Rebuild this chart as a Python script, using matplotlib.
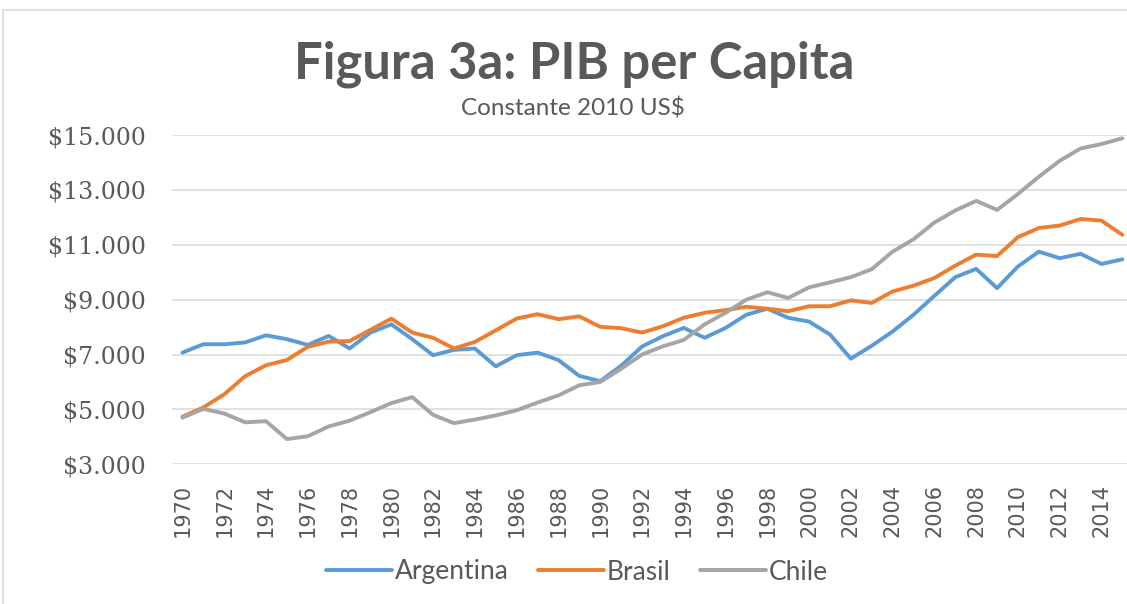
import matplotlib
matplotlib.use("Agg")
import matplotlib.pyplot as plt
from matplotlib.patches import Rectangle
from matplotlib.ticker import FuncFormatter

years = list(range(1970, 2016))
argentina = [7070, 7375, 7375, 7440, 7700, 7560, 7350, 7680, 7220, 7800,
             8100, 7560, 6975, 7170, 7220, 6570, 6975, 7070, 6800, 6220,
             6030, 6590, 7290, 7670, 7970, 7610, 7970, 8450, 8670, 8340,
             8200, 7730, 6850, 7320, 7840, 8450, 9140, 9820, 10120, 9420,
             10210, 10750, 10510, 10670, 10300, 10470]
brasil = [4735, 5070, 5550, 6210, 6610, 6800, 7280, 7470, 7490, 7900,
          8310, 7800, 7610, 7220, 7460, 7880, 8310, 8470, 8290, 8390,
          8010, 7960, 7800, 8030, 8340, 8520, 8620, 8740, 8670, 8580,
          8760, 8760, 8975, 8880, 9300, 9510, 9790, 10240, 10640, 10590,
          11280, 11610, 11700, 11940, 11880, 11360]
chile = [4700, 5020, 4850, 4530, 4570, 3920, 4020, 4380, 4590, 4900,
         5230, 5450, 4800, 4500, 4630, 4780, 4970, 5250, 5510, 5880,
         6000, 6480, 7000, 7300, 7530, 8100, 8520, 9000, 9270, 9060,
         9450, 9630, 9820, 10110, 10750, 11200, 11810, 12250, 12600, 12270,
         12850, 13480, 14060, 14510, 14670, 14880]

series_names = ["Argentina", "Brasil", "Chile"]
colors = ["#5B9BD5", "#ED7D31", "#A5A5A5"]
yticks = [3000, 5000, 7000, 9000, 11000, 13000, 15000]
xticks = list(range(1970, 2015, 2))

W, H = 1127, 604
fig = plt.figure(figsize=(W / 100, H / 100), dpi=100)
fig.patch.set_facecolor("white")

# chart border
fig.patches.append(Rectangle((3 / W, -0.01), 1.02, 1 - 10 / H + 0.01,
                             transform=fig.transFigure, fill=False,
                             edgecolor="#D9D9D9", linewidth=1.2))

left = 172 / W
right = 1.0
top = 1 - 135 / H
bottom = 1 - 464.3 / H
ax = fig.add_axes([left, bottom, right - left, top - bottom])

for name, vals, c in zip(series_names, [argentina, brasil, chile], colors):
    ax.plot(years, vals, color=c, linewidth=2.8, label=name,
            solid_capstyle="round", solid_joinstyle="round")

ax.set_ylim(3000, 15000)
ax.set_xlim(1969.5, 2015.22)
ax.set_yticks(yticks)
ax.set_xticks(xticks)
ax.yaxis.set_major_formatter(FuncFormatter(lambda v, p: "$" + f"{int(v):,}".replace(",", ".")))
ax.grid(axis="y", color="#D9D9D9", linewidth=1.1)
ax.set_axisbelow(True)
for s in ax.spines.values():
    s.set_visible(False)
ax.tick_params(length=0, colors="#595959")
ax.tick_params(axis="y", pad=19)
ax.tick_params(axis="x", pad=14)
for lab in ax.get_xticklabels():
    lab.set_rotation(90)
for lab in ax.get_yticklabels():
    lab.set_fontfamily("DejaVu Serif")
    lab.set_fontsize(17)
for lab in ax.get_xticklabels():
    lab.set_fontfamily("Liberation Sans Narrow")
    lab.set_fontsize(15)

fig.text(574 / W, 1 - 64 / H, "Figura 3a: PIB per Capita", ha="center", va="center",
         fontsize=36.5, fontweight="bold", color="#595959", family="Lato")
fig.text(573 / W, 1 - 108 / H, "Constante 2010 US$", ha="center", va="center",
         fontsize=17.5, color="#595959", family="Lato")

leg = fig.legend(loc="center", bbox_to_anchor=(577 / W, 1 - 572 / H), ncol=3,
                 frameon=False, handlelength=2.5, handletextpad=0.12,
                 columnspacing=1.1, prop={"family": "Lato", "size": 19})
for t in leg.get_texts():
    t.set_color("#595959")

fig.savefig("out.png", dpi=100, facecolor="white")
